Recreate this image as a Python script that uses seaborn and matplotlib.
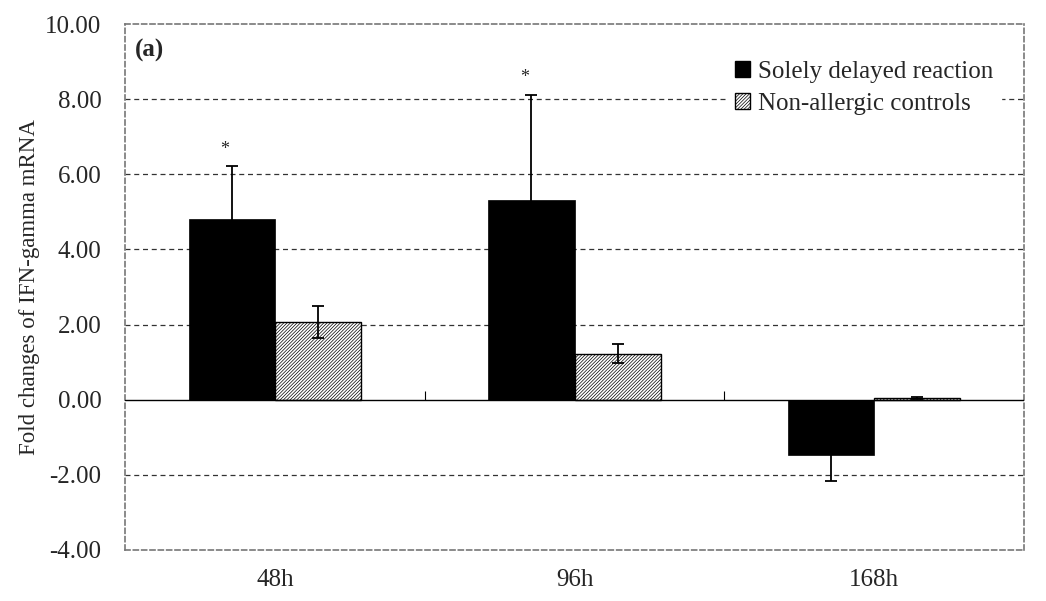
import numpy as np
import pandas as pd
import matplotlib
matplotlib.use('Agg')
import matplotlib.pyplot as plt
import seaborn as sns
from matplotlib.patches import Patch

# data
times = ['48h', '96h', '168h']
delayed = [4.80, 5.32, -1.46]
delayed_err = [1.42, 2.80, 0.70]
controls = [2.07, 1.22, 0.05]
controls_err = [0.42, 0.25, 0.02]
groups = ['Solely delayed reaction', 'Non-allergic controls']
signif = [True, True, False]   # asterisk over delayed-reaction bars
y_ticks = [-4, -2, 0, 2, 4, 6, 8, 10]

sns.set_theme(style='white')
plt.rcParams['font.family'] = ['Liberation Serif', 'DejaVu Serif']
plt.rcParams['axes.unicode_minus'] = False
plt.rcParams['hatch.linewidth'] = 0.5
plt.rcParams['hatch.color'] = '#333333'

df = pd.DataFrame({
    'time': times * 2,
    'group': [groups[0]] * 3 + [groups[1]] * 3,
    'value': delayed + controls,
    'err': delayed_err + controls_err,
})

fig = plt.figure(figsize=(10.46, 6.01), dpi=100)
ax = fig.add_axes([0.1195, 0.085, 0.8595, 0.875])

sns.barplot(data=df, x='time', y='value', hue='group', order=times,
            hue_order=groups, palette=['black', 'white'], width=0.575,
            errorbar=None, legend=False, ax=ax, zorder=3)

# style bars: first hue solid black, second hatched
bars = ax.patches
n = len(times)
for i, p in enumerate(bars[:2 * n]):
    if i < n:
        p.set_edgecolor('black')
        p.set_linewidth(0.5)
    else:
        p.set_facecolor('white')
        p.set_hatch('//////////')
        p.set_edgecolor('black')
        p.set_linewidth(1.0)

# error bars at bar centres
for i, p in enumerate(bars[:2 * n]):
    xc = p.get_x() + p.get_width() / 2
    val = df['value'].iloc[i]
    err = df['err'].iloc[i]
    ax.errorbar(xc, val, yerr=err, fmt='none', ecolor='black',
                elinewidth=1.3, capsize=4, capthick=1.3, zorder=4)
    if i < n and signif[i]:
        ax.annotate('*', (xc, val + err), xytext=(-5, 6),
                    textcoords='offset points', ha='center', va='bottom',
                    fontsize=13)

# zero axis line with category separators
ax.axhline(0, color='black', lw=1.0, zorder=5)
bounds = np.arange(n) + 0.5
ax.vlines(bounds, 0, 0.22, color='black', lw=0.8, zorder=5)

ax.set_xlim(-0.5, n - 0.5)
ax.set_ylim(-4, 10)
ax.set_yticks(y_ticks)
ax.set_yticklabels([f'{v:.2f}' for v in y_ticks], fontsize=18)
ax.tick_params(axis='x', labelsize=18, pad=14, length=0)
ax.tick_params(axis='y', length=0, pad=17)
ax.set_xlabel('')
ax.set_ylabel('Fold changes of IFN-gamma mRNA', fontsize=16.5, labelpad=4)

# dashed grid lines except at zero
for v in y_ticks:
    if v not in (0, -4, 10):
        ax.axhline(v, color='#333333', lw=0.9, ls=(0, (4, 3)), zorder=1)

for s in ax.spines.values():
    s.set_visible(True)
    s.set_color('#777777')
    s.set_linewidth(1.2)
    s.set_linestyle((0, (3, 2)))

ax.text(0.011, 0.972, '(a)', transform=ax.transAxes, fontsize=18,
        fontweight='bold', va='top', ha='left')

handles = [Patch(facecolor='black', edgecolor='black'),
           Patch(facecolor='white', edgecolor='black', hatch='//////////')]
leg = ax.legend(handles, groups, loc='upper right', bbox_to_anchor=(0.988, 0.968),
                fontsize=18, frameon=True, fancybox=False, framealpha=1,
                edgecolor='white', handlelength=0.6, handleheight=0.6,
                handletextpad=0.3, labelspacing=0.4, borderpad=0.3)
leg.set_zorder(6)

fig.savefig('out.png', dpi=100)
